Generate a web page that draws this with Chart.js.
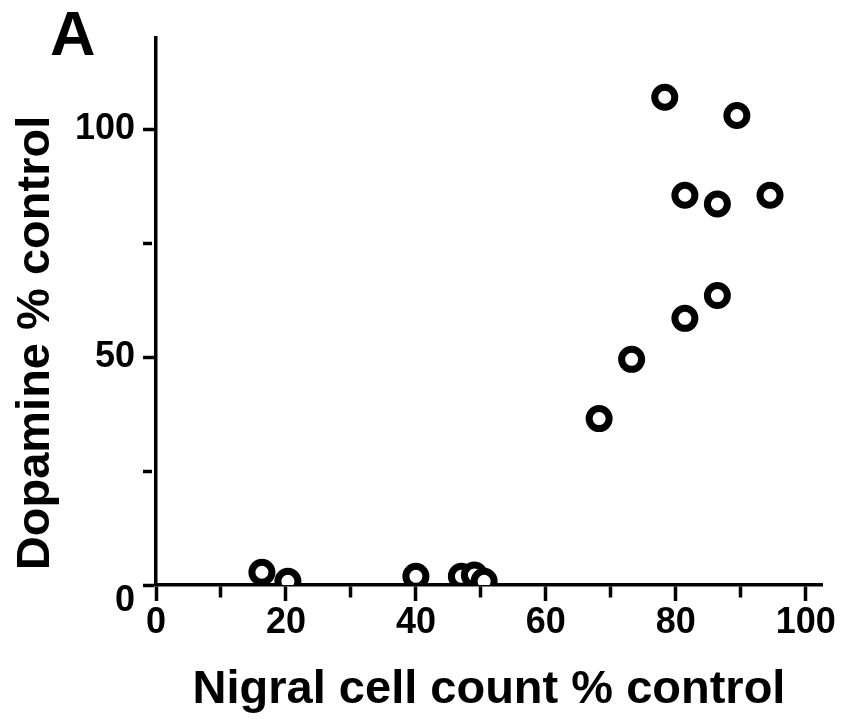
<!DOCTYPE html>
<html><head><meta charset="utf-8">
<script src="https://cdn.jsdelivr.net/npm/chart.js@4.4.1/dist/chart.umd.min.js"></script>
<style>html,body{margin:0;padding:0;background:#fff}#wrap{width:843px;height:719px;position:relative}</style>
</head><body><div id="wrap"><canvas id="c" width="843" height="719"></canvas></div>
<script>
// ---- data ----
const nigralCellCount = [16.3, 20.3, 40, 47, 49, 50.5, 68.2, 73.2, 78.3, 81.4, 81.4, 86.4, 86.4, 89.4, 94.5];
const dopaminePct     = [2.8, 0.8, 1.9, 1.9, 2.2, 0.8, 36.5, 49.5, 107, 85.5, 58.5, 83.6, 63.5, 103, 85.5];
const xTickLabels = ['0', '20', '40', '60', '80', '100'];
const yTickLabels = ['0', '50', '100'];
const xTitle = 'Nigral cell count % control';
const yTitle = 'Dopamine % control';
const panelLabel = 'A';

const FONT = "'Liberation Sans', Arial, Helvetica, sans-serif";
Chart.defaults.font.family = FONT;
Chart.defaults.color = '#000';

const points = nigralCellCount.map((x, i) => ({x: x, y: dopaminePct[i]}));

const extraText = {
  id: 'extraText',
  afterDraw(chart) {
    const ctx = chart.ctx;
    const ys = chart.scales.y;
    ctx.save();
    ctx.fillStyle = '#000';
    // y zero label (sits lower than the axis in the reference)
    ctx.font = 'bold 36px ' + FONT;
    ctx.textAlign = 'right';
    ctx.textBaseline = 'middle';
    ctx.fillText(yTickLabels[0], ys.right - 21, ys.getPixelForValue(0) + 16);
    // y axis title
    ctx.save();
    ctx.translate(36, 343);
    ctx.rotate(-Math.PI / 2);
    ctx.font = 'bold 47px ' + FONT;
    ctx.textAlign = 'center';
    ctx.textBaseline = 'middle';
    ctx.fillText(yTitle, 0, 0);
    ctx.restore();
    // panel label
    ctx.font = 'bold 63px ' + FONT;
    ctx.textAlign = 'left';
    ctx.textBaseline = 'alphabetic';
    ctx.fillText(panelLabel, 50, 55);
    ctx.restore();
  }
};

new Chart(document.getElementById('c'), {
  type: 'scatter',
  data: {
    datasets: [{
      data: points,
      pointRadius: 10,
      pointHoverRadius: 10,
      pointBorderWidth: 7,
      pointHoverBorderWidth: 7,
      pointBackgroundColor: '#fff',
      pointBorderColor: '#000',
      showLine: false
    }]
  },
  options: {
    responsive: false,
    animation: false,
    events: [],
    layout: {padding: {top: 38, right: 21, left: 0, bottom: 0}},
    plugins: {legend: {display: false}, tooltip: {enabled: false}},
    scales: {
      x: {
        type: 'linear',
        min: 0, max: 102.5,
        afterFit(s) { s.height = 134; },
        border: {display: true, color: '#000', width: 3.5},
        grid: {
          drawOnChartArea: false, drawTicks: true,
          tickLength: 16, tickWidth: 3.5, tickColor: '#000',
          tickBorderDash: c => (c.tick && c.tick.value % 20 !== 0) ? [11, 200] : []
        },
        ticks: {
          stepSize: 10, includeBounds: false, maxRotation: 0, autoSkip: false,
          padding: 0,
          font: {size: 36, weight: 'bold'},
          callback: v => xTickLabels.includes(String(v)) ? String(v) : ''
        },
        title: {
          display: true, text: xTitle,
          font: {size: 47, weight: 'bold'},
          padding: {top: 0, bottom: 1}
        }
      },
      y: {
        type: 'linear',
        min: 0, max: 120,
        afterFit(s) { s.width = 156; },
        border: {display: true, color: '#000', width: 3.5},
        grid: {
          drawOnChartArea: false, drawTicks: true,
          tickLength: 13, tickWidth: 3.5, tickColor: '#000',
          tickBorderDash: c => (c.tick && c.tick.value % 50 !== 0) ? [9, 200] : []
        },
        ticks: {
          stepSize: 25, includeBounds: false, autoSkip: false,
          padding: 8,
          font: {size: 36, weight: 'bold'},
          callback: v => (v !== 0 && yTickLabels.includes(String(v))) ? String(v) : ''
        }
      }
    }
  },
  plugins: [extraText]
});
</script>
</body></html>
